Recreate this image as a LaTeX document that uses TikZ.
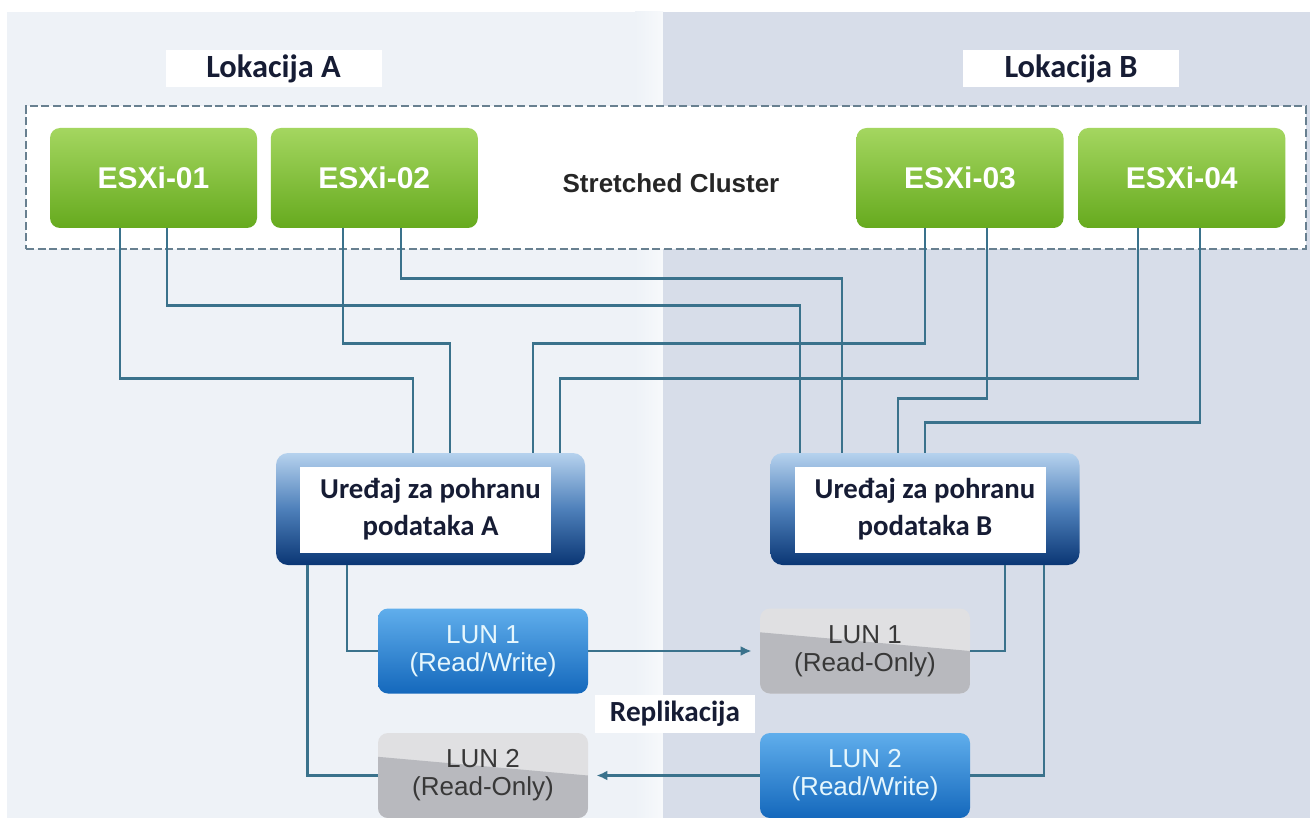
\documentclass[tikz,border=0pt]{standalone}
\usepackage{fontspec}
\setmainfont{Carlito}
\newfontfamily\arialfont{Liberation Sans}
\usetikzlibrary{calc,positioning,arrows.meta}

\definecolor{panelA}{RGB}{238,242,247}
\definecolor{panelB}{RGB}{215,221,233}
\definecolor{wirec}{RGB}{58,114,140}
\definecolor{dashc}{RGB}{104,128,144}
\definecolor{esxtop}{RGB}{164,214,96}
\definecolor{esxbot}{RGB}{102,170,30}
\definecolor{stotop}{RGB}{182,210,238}
\definecolor{stomid}{RGB}{78,128,186}
\definecolor{stobot}{RGB}{10,54,116}
\definecolor{rwtop}{RGB}{96,174,236}
\definecolor{rwbot}{RGB}{20,104,188}
\definecolor{rotop}{RGB}{224,224,226}
\definecolor{robot}{RGB}{184,185,190}
\definecolor{navy}{RGB}{22,28,52}

\tikzset{
  esx/.style={rounded corners=5pt, minimum width=103.5pt, minimum height=50pt,
    top color=esxtop, bottom color=esxbot, text=white,
    font=\arialfont\bfseries\fontsize{15}{18}\selectfont},
  cluster/.style={draw=dashc, line width=1.1pt, dash pattern=on 4pt off 1.8pt,
    fill=white, minimum width=640pt, minimum height=71.5pt},
  loc/.style={fill=white, minimum width=108pt, minimum height=18.5pt, inner sep=0pt,
    text=navy, font=\bfseries\fontsize{16.2}{18}\selectfont},
  stobox/.style={rounded corners=6pt, minimum width=154.5pt, minimum height=56pt,
    top color=stotop, bottom color=stobot, middle color=stomid,
    align=center, text=navy, font=\bfseries\fontsize{14.4}{18.5}\selectfont,
    path picture={\fill[white, sharp corners]
      ([shift={(12pt,-7pt)}]path picture bounding box.north west)
      rectangle ([shift={(-17pt,6pt)}]path picture bounding box.south east);}},
  lun/.style={rounded corners=5pt, minimum width=105pt, minimum height=42.5pt,
    align=center, font=\arialfont\fontsize{13}{14}\selectfont},
  lunrw/.style={lun, top color=rwtop, bottom color=rwbot, text=cyan!10!white},
  lunro/.style={lun, fill=rotop, text=black!78,
    path picture={\fill[robot, sharp corners]
      ($(path picture bounding box.north west)!0.28!(path picture bounding box.south west)$)
      -- ($(path picture bounding box.north east)!0.5!(path picture bounding box.south east)$)
      |- (path picture bounding box.south west) -- cycle;}},
  wire/.style={draw=wirec, line width=1.1pt},
  rep/.style={wire, -{Latex[length=5.5pt,width=5pt]}, shorten >=4pt}
}

\begin{document}
\begin{tikzpicture}[x=0.5pt, y=-0.5pt]
  \useasboundingbox (0,0) rectangle (1310,818);

  % Lokacije (pozadina)
  \fill[white] (0,0) rectangle (1310,818);
  \fill[panelA] (7,12) rectangle (663,818);
  \shade[left color=panelA, right color=white!55!panelA] (635,12) rectangle (663,818);
  \fill[panelB] (663,12) rectangle (1310,818);

  \node[loc] (la) at (273.5,68.5) {Lokacija A};
  \node[loc] (lb) at (1071,68.5) {Lokacija B};

  % Stretched cluster
  \node[cluster] (cl) at (666,177.5) {};
  \node[font=\arialfont\bfseries\fontsize{13}{15}\selectfont, text=black!85] (sc) at (671,183) {Stretched Cluster};

  \node[esx] (e1) at (153.5,178) {ESXi-01};
  \node[esx, right=6.5pt of e1] (e2) {ESXi-02};
  \node[esx] (e3) at (960,178) {ESXi-03};
  \node[esx, right=7pt of e3] (e4) {ESXi-04};

  % Uredaji za pohranu
  \node[stobox] (sa) at (430.5,509) {Uređaj za pohranu\\podataka A};
  \node[stobox] (sb) at (925,509) {Uređaj za pohranu\\podataka B};

  % LUN-ovi
  \node[lunrw] (l1rw) at (483,651) {LUN 1\\(Read/Write)};
  \node[lunro] (l1ro) at (865,651) {LUN 1\\(Read-Only)};
  \node[lunro] (l2ro) at (483,775.5) {LUN 2\\(Read-Only)};
  \node[lunrw] (l2rw) at (865,775.5) {LUN 2\\(Read/Write)};

  \node[loc, minimum width=80pt, minimum height=19pt, font=\bfseries\fontsize{14.6}{16}\selectfont] (rp) at (675,714) {Replikacija};

  % Veze ESXi -> pohrana
  \foreach \src/\dx/\dy/\dst/\ex in {e1/-33.5/150/sa/-17.5, e1/13.5/77/sb/-125,
      e2/-31.5/115/sa/19.5, e2/26.5/50/sb/-83, e3/-35/115/sa/102.5, e3/27/170/sb/-27,
      e4/-43.5/150/sa/129.5, e4/18.5/194/sb/0} {
    \draw[wire] ($(\src.south)+(\dx,0)$) -- ++(0,\dy) -| ($(\dst.north)+(\ex,0)$);
  }

  % Veze pohrana -> LUN
  \draw[wire] ($(sa.south)+(-83.5,0)$) |- (l1rw.west);
  \draw[wire] ($(sa.south)+(-123,0)$) |- (l2ro.west);
  \draw[wire] ($(sb.south)+(80,0)$) |- (l1ro.east);
  \draw[wire] ($(sb.south)+(119,0)$) |- (l2rw.east);

  % Replikacija
  \draw[rep] (l1rw.east) -- (l1ro.west);
  \draw[rep] (l2rw.west) -- (l2ro.east);
\end{tikzpicture}
\end{document}
